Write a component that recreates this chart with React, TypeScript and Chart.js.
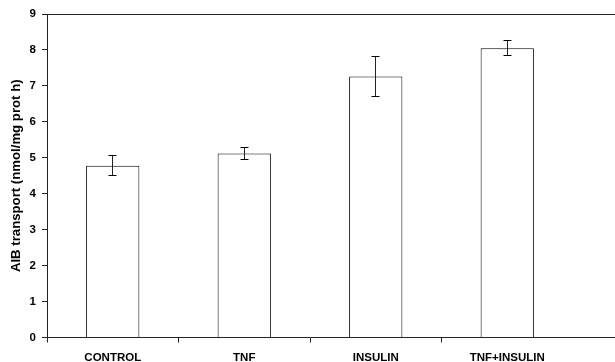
import React, { useEffect, useRef } from "react";
import { Chart, registerables } from "chart.js";

Chart.register(...registerables);

const categories = ["CONTROL", "TNF", "INSULIN", "TNF+INSULIN"];
const values = [4.78, 5.12, 7.26, 8.05];
const errors = [0.27, 0.16, 0.55, 0.2];
const yTicks = [0, 1, 2, 3, 4, 5, 6, 7, 8, 9];
const yTitle = "AIB transport (nmol/mg prot h)";

const FONT = "'Liberation Sans', Arial, Helvetica, sans-serif";

const align = (p: number) => Math.round(p - 0.5) + 0.5;

const errorBarPlugin = {
  id: "errorBars",
  afterDatasetsDraw(chart: any) {
    const ctx = chart.ctx;
    const x = chart.scales.x;
    const y = chart.scales.y;
    ctx.save();
    values.forEach((v, i) => {
      const cx = align(x.getPixelForValue(i));
      const top = align(y.getPixelForValue(v + errors[i]));
      const bot = align(y.getPixelForValue(v - errors[i]));
      ctx.strokeStyle = "#222";
      ctx.lineWidth = 1;
      ctx.beginPath();
      ctx.moveTo(cx, top);
      ctx.lineTo(cx, bot);
      ctx.stroke();
      ctx.strokeStyle = "#000";
      ctx.beginPath();
      ctx.moveTo(cx - 4, top);
      ctx.lineTo(cx + 4, top);
      ctx.moveTo(cx - 4, bot);
      ctx.lineTo(cx + 4, bot);
      ctx.stroke();
    });
    ctx.restore();
  },
};

const frameExtendPlugin = {
  id: "frameExtend",
  afterDraw(chart: any) {
    const ctx = chart.ctx;
    const a = chart.chartArea;
    ctx.save();
    ctx.strokeStyle = "#222";
    ctx.lineWidth = 1;
    ctx.beginPath();
    const t = align(a.top);
    ctx.moveTo(a.left, t);
    ctx.lineTo(chart.width, t);
    const b = align(a.bottom);
    ctx.moveTo(a.right - 1, b);
    ctx.lineTo(chart.width, b);
    ctx.stroke();
    ctx.restore();
  },
};

export default function App() {
  const ref = useRef<HTMLCanvasElement | null>(null);
  useEffect(() => {
    if (!ref.current) return;
    const chart = new Chart(ref.current, {
      type: "bar",
      data: {
        labels: categories,
        datasets: [
          {
            data: values,
            backgroundColor: "#ffffff",
            borderColor: "#000000",
            borderWidth: 1,
            categoryPercentage: 1,
            barPercentage: 0.405,
          },
        ],
      },
      options: {
        animation: false,
        responsive: false,
        layout: { padding: { top: 14, right: 42, left: 0, bottom: 0 } },
        plugins: { legend: { display: false }, tooltip: { enabled: false } },
        scales: {
          x: {
            offset: true,
            grid: {
              offset: true,
              drawOnChartArea: false,
              drawTicks: true,
              tickLength: 5,
              color: (c: any) => (c.index === undefined ? "rgba(0,0,0,0)" : "#222"),
            },
            border: { display: true, color: "#222", width: 1 },
            ticks: {
              color: "#000",
              font: { family: FONT, size: 11.5, weight: "bold" },
              padding: 8,
              maxRotation: 0,
            },
            afterFit: (s: any) => {
              s.height = 24.5;
            },
          },
          y: {
            min: 0,
            max: 9,
            afterBuildTicks: (s: any) => {
              s.ticks = yTicks.map((v) => ({ value: v }));
            },
            grid: {
              drawOnChartArea: false,
              drawTicks: true,
              tickLength: 5,
              color: "#222",
            },
            border: { display: true, color: "#222", width: 1 },
            ticks: {
              color: "#000",
              font: { family: FONT, size: 11.5, weight: "bold" },
              padding: 6,
            },
            title: {
              display: true,
              text: yTitle,
              color: "#000",
              font: { family: FONT, size: 13.2, weight: "bold" },
              padding: { top: 8, bottom: 0 },
            },
            afterFit: (s: any) => {
              s.width = 47;
            },
          },
        },
      },
      plugins: [errorBarPlugin, frameExtendPlugin],
    });
    return () => chart.destroy();
  }, []);
  return (
    <div style={{ position: "absolute", left: 0, top: 0, width: 615, height: 362, background: "#fff" }}>
      <canvas ref={ref} width={615} height={362} style={{ display: "block" }} />
    </div>
  );
}
